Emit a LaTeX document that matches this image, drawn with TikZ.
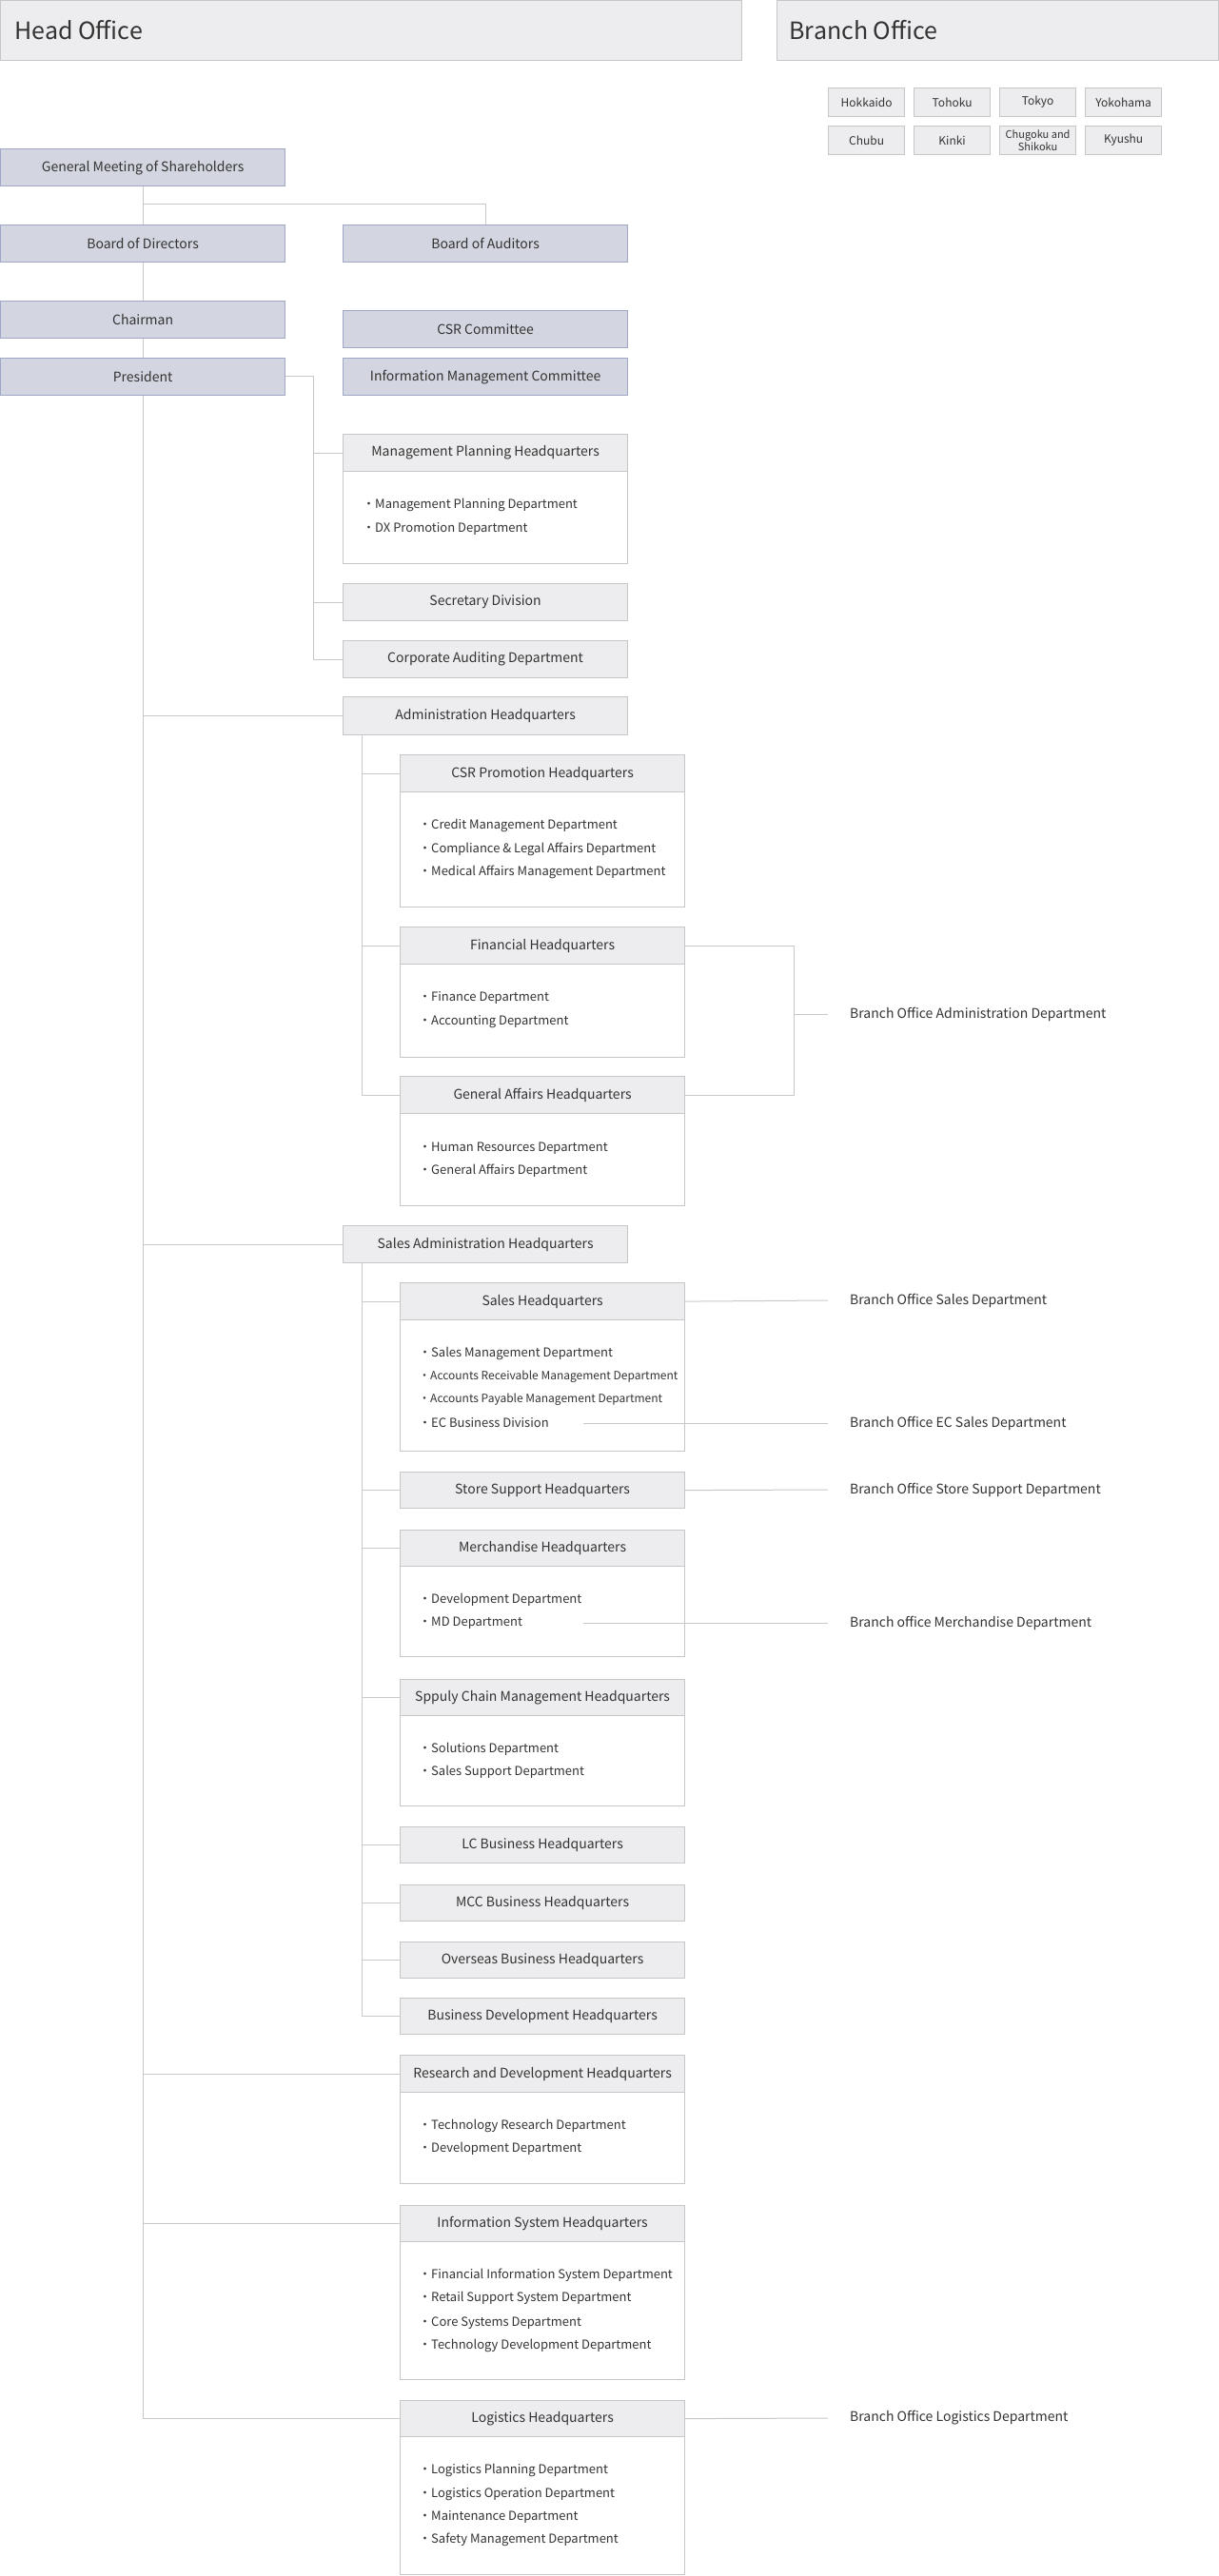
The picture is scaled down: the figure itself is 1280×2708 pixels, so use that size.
\documentclass[tikz,border=0pt]{standalone}
\usepackage{fontspec}
\setmainfont{Noto Sans CJK JP}
\definecolor{gfill}{HTML}{EDEDEF}
\definecolor{gline}{HTML}{C6C6C8}
\definecolor{bfill}{HTML}{D3D6E0}
\definecolor{bline}{HTML}{9FA6C6}
\definecolor{conn}{HTML}{C8C8C8}
\definecolor{txt}{HTML}{333333}
\tikzset{
 gb/.style={draw=gline,fill=gfill,line width=1.2pt,inner sep=0pt,text=txt,font=\fontsize{14}{16}\selectfont},
 bb/.style={draw=bline,fill=bfill,line width=1.2pt,inner sep=0pt,text=txt,font=\fontsize{14}{16}\selectfont},
 wb/.style={draw=gline,fill=white,line width=1.2pt,inner sep=0pt},
 bul/.style={anchor=west,inner sep=0pt,text=txt,font=\fontsize{13}{15}\selectfont},
 ln/.style={draw=conn,line width=1pt},
 br/.style={anchor=west,inner sep=0pt,text=txt,font=\fontsize{14}{16}\selectfont},
}
\newcommand\bx[7]{\node[#2,anchor=north west,minimum width=#5pt,minimum height=#6pt] (#1) at (#3,#4) {#7};}
\begin{document}
\begin{tikzpicture}[x=1pt,y=-1pt]
\useasboundingbox[fill=white] (0,0) rectangle (1280,2708);
% headers
\node[gb,anchor=north west,minimum width=779pt,minimum height=63pt,font=\fontsize{25}{28}\selectfont] (ho) at (0,0) {};
\node[anchor=west,text=txt,font=\fontsize{25}{28}\selectfont] (hot) at (12,32) {Head Office};
\node[gb,anchor=north west,minimum width=464pt,minimum height=63pt] (bo) at (816,0) {};
\node[anchor=west,text=txt,font=\fontsize{25}{28}\selectfont] (bot) at (826,32) {Branch Office};
\tikzset{sm/.style={gb,font=\fontsize{12}{12}\selectfont}}
\bx{r1}{sm}{870}{92}{80}{30}{Hokkaido}
\bx{r2}{sm}{960}{92}{80}{30}{Tohoku}
\bx{r3}{sm}{1050}{92}{80}{30}{Tokyo}
\bx{r4}{sm}{1140}{92}{80}{30}{Yokohama}
\bx{r5}{sm}{870}{132}{80}{30}{Chubu}
\bx{r6}{sm}{960}{132}{80}{30}{Kinki}
\bx{r7}{sm,align=center,font=\fontsize{11}{11}\selectfont}{1050}{132}{80}{30}{Chugoku and\\Shikoku}
\bx{r8}{sm}{1140}{132}{80}{30}{Kyushu}
% governance
\bx{gms}{bb}{0}{156}{299}{39}{General Meeting of Shareholders}
\bx{bod}{bb}{0}{236}{299}{39}{Board of Directors}
\bx{boa}{bb}{360}{236}{299}{39}{Board of Auditors}
\bx{chm}{bb}{0}{316}{299}{39}{Chairman}
\bx{csrc}{bb}{360}{326}{299}{39}{CSR Committee}
\bx{pres}{bb}{0}{376}{299}{39}{President}
\bx{imc}{bb}{360}{376}{299}{39}{Information Management Committee}
\coordinate (j1) at (150,215);
\draw[ln] (gms.south) -- (bod.north);
\draw[ln] (j1) -| (boa.north);
\draw[ln] (bod.south) -- (chm.north);
\draw[ln] (chm.south) -- (pres.north);
% staff
\bx{mph}{gb}{360}{456}{299}{39}{Management Planning Headquarters}
\bx{mphb}{wb}{360}{495}{299}{97}{}
\node[bul] at (381,531) {・Management Planning Department};
\node[bul] at (381,556) {・DX Promotion Department};
\bx{sec}{gb}{360}{613}{299}{39}{Secretary Division}
\bx{cad}{gb}{360}{673}{299}{39}{Corporate Auditing Department}
\coordinate (p1) at (329,395);
\draw[ln] (pres.east |- p1) -- (p1) |- (cad.west);
\draw[ln] (p1 |- mph.west) -- (mph.west);
\draw[ln] (p1 |- sec.west) -- (sec.west);
% admin
\bx{adm}{gb}{360}{732}{299}{40}{Administration Headquarters}
\bx{csrp}{gb}{420}{793}{299}{39}{CSR Promotion Headquarters}
\bx{csrpb}{wb}{420}{832}{299}{121}{}
\node[bul] at (440,868) {・Credit Management Department};
\node[bul] at (440,893) {・Compliance \& Legal Affairs Department};
\node[bul] at (440,917) {・Medical Affairs Management Department};
\bx{fin}{gb}{420}{974}{299}{39}{Financial Headquarters}
\bx{finb}{wb}{420}{1013}{299}{98}{}
\node[bul] at (440,1049) {・Finance Department};
\node[bul] at (440,1074) {・Accounting Department};
\bx{ga}{gb}{420}{1131}{299}{39}{General Affairs Headquarters}
\bx{gab}{wb}{420}{1170}{299}{97}{}
\node[bul] at (440,1207) {・Human Resources Department};
\node[bul] at (440,1231) {・General Affairs Department};
\coordinate (a1) at (380,772);
\draw[ln] (a1) |- (ga.west);
\draw[ln] (a1 |- csrp.west) -- (csrp.west);
\draw[ln] (a1 |- fin.west) -- (fin.west);
\coordinate (bk) at (834,1066);
\draw[ln] (fin.east) -| (bk) |- (ga.east);
\node[br] (bad) at (893,1066) {Branch Office Administration Department};
\draw[ln] (bk) -- (870,1066);
% sales
\bx{sad}{gb}{360}{1288}{299}{39}{Sales Administration Headquarters}
\bx{sal}{gb}{420}{1348}{299}{39}{Sales Headquarters}
\bx{salb}{wb}{420}{1387}{299}{138}{}
\node[bul] at (440,1423) {・Sales Management Department};
\node[bul,font=\fontsize{12}{14}\selectfont] at (440,1447) {・Accounts Receivable Management Department};
\node[bul,font=\fontsize{12}{14}\selectfont] at (440,1471) {・Accounts Payable Management Department};
\node[bul] at (440,1496) {・EC Business Division};
\bx{sto}{gb}{420}{1547}{299}{38}{Store Support Headquarters}
\bx{mer}{gb}{420}{1608}{299}{38}{Merchandise Headquarters}
\bx{merb}{wb}{420}{1646}{299}{95}{}
\node[bul] at (440,1682) {・Development Department};
\node[bul] (mdd) at (440,1706) {・MD Department};
\bx{scm}{gb}{420}{1765}{299}{38}{Sppuly Chain Management Headquarters}
\bx{scmb}{wb}{420}{1803}{299}{95}{}
\node[bul] at (440,1839) {・Solutions Department};
\node[bul] at (440,1863) {・Sales Support Department};
\bx{lc}{gb}{420}{1920}{299}{38}{LC Business Headquarters}
\bx{mcc}{gb}{420}{1981}{299}{38}{MCC Business Headquarters}
\bx{ovs}{gb}{420}{2041}{299}{38}{Overseas Business Headquarters}
\bx{bdv}{gb}{420}{2100}{299}{38}{Business Development Headquarters}
\coordinate (s1) at (380,1327);
\draw[ln] (s1) |- (bdv.west);
\foreach \n in {sal,sto,mer,scm,lc,mcc,ovs} \draw[ln] (s1 |- \n.west) -- (\n.west);
\node[br] (bsd) at (893,1367) {Branch Office Sales Department};
\node[br] (bec) at (893,1496) {Branch Office EC Sales Department};
\node[br] (bss) at (893,1566) {Branch Office Store Support Department};
\node[br] (bmd) at (893,1706) {Branch office Merchandise Department};
\draw[ln] (sal.east) -- (870,1367);
\draw[ln] (613,1496) -- (870,1496);
\draw[ln] (sto.east) -- (870,1566);
\draw[ln] (613,1706) -- (870,1706);
% R&D etc
\bx{rd}{gb}{420}{2160}{299}{39}{Research and Development Headquarters}
\bx{rdb}{wb}{420}{2199}{299}{96}{}
\node[bul] at (440,2235) {・Technology Research Department};
\node[bul] at (440,2259) {・Development Department};
\bx{is}{gb}{420}{2318}{299}{38}{Information System Headquarters}
\bx{isb}{wb}{420}{2356}{299}{145}{}
\node[bul] at (440,2392) {・Financial Information System Department};
\node[bul] at (440,2416) {・Retail Support System Department};
\node[bul] at (440,2442) {・Core Systems Department};
\node[bul] at (440,2466) {・Technology Development Department};
\bx{lg}{gb}{420}{2523}{299}{38}{Logistics Headquarters}
\bx{lgb}{wb}{420}{2561}{299}{145}{}
\node[bul] at (440,2597) {・Logistics Planning Department};
\node[bul] at (440,2622) {・Logistics Operation Department};
\node[bul] at (440,2646) {・Maintenance Department};
\node[bul] at (440,2670) {・Safety Management Department};
\node[br] (blg) at (893,2542) {Branch Office Logistics Department};
\draw[ln] (lg.east) -- (870,2542);
% main trunk
\draw[ln] (pres.south) |- (lg.west);
\foreach \n in {adm,sad,rd,is} \draw[ln] (pres.south |- \n.west) -- (\n.west);
\end{tikzpicture}
\end{document}
